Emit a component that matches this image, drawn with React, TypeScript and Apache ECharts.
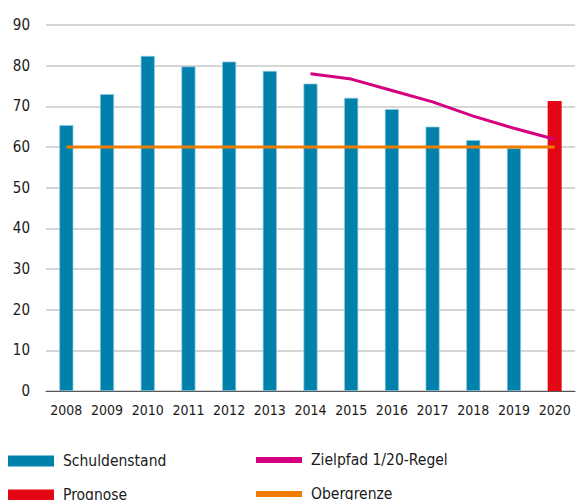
import React, { useEffect, useRef } from "react";
import * as echarts from "echarts";

const years = ["2008","2009","2010","2011","2012","2013","2014","2015","2016","2017","2018","2019","2020"];
const schuldenstand = [65.4, 73.0, 82.4, 79.8, 81.0, 78.7, 75.6, 72.1, 69.3, 65.0, 61.7, 59.7, null];
const prognose = [null, null, null, null, null, null, null, null, null, null, null, null, 71.3];
const zielpfad = [null, null, null, null, null, null, 78.0, 76.7, 73.9, 71.1, 67.6, 64.6, 61.9];
const obergrenze = [60, 60, 60, 60, 60, 60, 60, 60, 60, 60, 60, 60, 60];
const yTicks = { min: 0, max: 90, interval: 10 };

const FONT = "'Liberation Sans Narrow', 'DejaVu Sans Condensed', 'Arial Narrow', sans-serif";

export default function App() {
  const ref = useRef<HTMLDivElement>(null);
  useEffect(() => {
    if (!ref.current) return;
    const chart = echarts.init(ref.current, null, { renderer: "svg" });
    const legendText = { fontFamily: FONT, fontSize: 15.5, color: "#1a1a1a", padding: [0, 0, 0, 4] };
    chart.setOption({
      animation: false,
      textStyle: { fontFamily: FONT },
      grid: { left: 46, right: 1, top: 25, bottom: 109, containLabel: false },
      legend: [
        {
          data: ["Schuldenstand", "Prognose"],
          orient: "vertical",
          left: 8,
          top: 453,
          height: 70,
          padding: 0,
          itemWidth: 46,
          itemHeight: 11,
          itemGap: 14,
          icon: "rect",
          itemStyle: { borderWidth: 0 },
          textStyle: legendText,
        },
        {
          data: ["Zielpfad 1/20-Regel", "Obergrenze"],
          orient: "vertical",
          left: 256,
          top: 452,
          height: 70,
          padding: 0,
          itemWidth: 46,
          itemHeight: 6,
          itemGap: 14,
          icon: "rect",
          textStyle: legendText,
        },
      ].map((l) => ({ ...l, itemGap: 18 })),
      xAxis: {
        type: "category",
        data: years,
        axisLine: { lineStyle: { color: "#555", width: 1 } },
        axisTick: { lineStyle: { color: "#555" }, length: 5 },
        axisLabel: { fontFamily: FONT, fontSize: 14, color: "#1a1a1a", margin: 12, interval: 0 },
      },
      yAxis: {
        type: "value",
        min: yTicks.min,
        max: yTicks.max,
        interval: yTicks.interval,
        axisLine: { show: false },
        axisTick: { show: false },
        splitLine: { lineStyle: { color: "#c8c8c8", width: 1.5 } },
        axisLabel: { fontFamily: FONT, fontSize: 15, color: "#1a1a1a", margin: 16 },
      },
      series: [
        {
          name: "Schuldenstand",
          type: "bar",
          stack: "b",
          data: schuldenstand,
          barWidth: 14,
          itemStyle: { color: "#0081AC", borderColor: "#8cc8dc", borderWidth: 0.7 },
        },
        {
          name: "Prognose",
          type: "bar",
          stack: "b",
          data: prognose,
          barWidth: 14,
          itemStyle: { color: "#E30613" },
        },
        {
          name: "Zielpfad 1/20-Regel",
          type: "line",
          data: zielpfad,
          symbol: "none",
          lineStyle: { color: "#D4007F", width: 3 },
          itemStyle: { color: "#D4007F" },
        },
        {
          name: "Obergrenze",
          type: "line",
          data: obergrenze,
          symbol: "none",
          lineStyle: { color: "#F07D00", width: 3 },
          itemStyle: { color: "#F07D00" },
        },
      ],
    });
    return () => chart.dispose();
  }, []);
  return <div ref={ref} style={{ width: 576, height: 500, position: "absolute", left: 0, top: 0 }} />;
}
